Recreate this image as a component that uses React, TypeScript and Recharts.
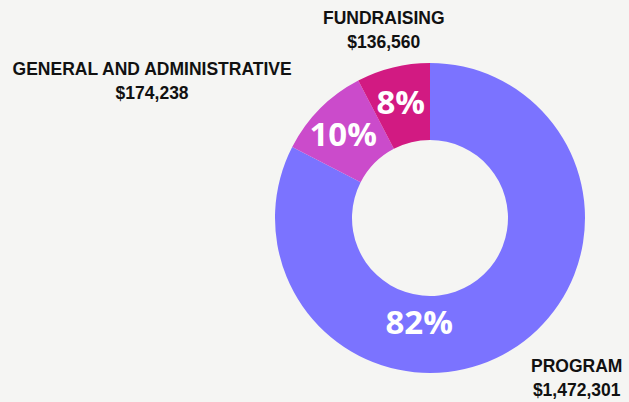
import { PieChart, Pie, Cell } from "recharts"

const categories = ["PROGRAM", "GENERAL AND ADMINISTRATIVE", "FUNDRAISING"]
const amounts = [1472301, 174238, 136560]
const amountLabels = ["$1,472,301", "$174,238", "$136,560"]
const percentLabels = ["82%", "10%", "8%"]
const colors = ["#7B73FF", "#CB4BCB", "#D21A82"]

const data = categories.map((name, i) => ({ name, value: amounts[i] }))

const RADIAN = Math.PI / 180
const LABEL_FONT = "bold 17.5px 'Liberation Sans', Arial, sans-serif"

let ctx: CanvasRenderingContext2D | null = null
const measure = (s: string) => {
  if (!ctx) ctx = document.createElement("canvas").getContext("2d")
  if (!ctx) return s.length * 10
  ctx.font = LABEL_FONT
  return ctx.measureText(s).width
}

const renderLabel = (props: any) => {
  const { cx, cy, midAngle, innerRadius, outerRadius, index, percent } = props
  // inside percentage; the big slice puts its number near the bottom
  const inAngle = percent > 0.5 ? -96 : midAngle
  const inR = percent > 0.5 ? 104 : (innerRadius + outerRadius) / 2 + 6
  const ix = cx + inR * Math.cos(-inAngle * RADIAN)
  const iy = cy + inR * Math.sin(-inAngle * RADIAN) + (percent > 0.5 ? 0 : 2)

  // outside name + amount, lines centred on each other
  const oR = outerRadius + 39
  const cos = Math.cos(-midAngle * RADIAN)
  const sin = Math.sin(-midAngle * RADIAN)
  const ox = cx + oR * cos
  const oy = cy + oR * sin - (sin > 0 ? 6 : 0)
  const w = Math.max(measure(categories[index]), measure(amountLabels[index]))
  const bx = cos > 0.3 ? ox + w / 2 : cos < -0.3 ? ox - w / 2 : ox

  return (
    <g>
      <text
        x={ix}
        y={iy}
        fill="#ffffff"
        textAnchor="middle"
        dominantBaseline="central"
        fontFamily="'Open Sans', sans-serif"
        fontWeight={700}
        fontSize={33}
      >
        {percentLabels[index]}
      </text>
      <text
        x={bx}
        y={oy - 12}
        fill="#111111"
        textAnchor="middle"
        dominantBaseline="central"
        fontFamily="'Liberation Sans', Arial, sans-serif"
        fontWeight={700}
        fontSize={17.5}
      >
        {categories[index]}
      </text>
      <text
        x={bx}
        y={oy + 12}
        fill="#111111"
        textAnchor="middle"
        dominantBaseline="central"
        fontFamily="'Liberation Sans', Arial, sans-serif"
        fontWeight={700}
        fontSize={17.5}
      >
        {amountLabels[index]}
      </text>
    </g>
  )
}

export default function App() {
  return (
    <div style={{ position: "fixed", left: 0, top: 0, width: 629, height: 402, background: "#F5F5F3" }}>
      <PieChart width={629} height={402} margin={{ top: 0, right: 0, bottom: 0, left: 0 }}>
        <Pie
          data={data}
          dataKey="value"
          nameKey="name"
          cx={430}
          cy={218}
          innerRadius={78}
          outerRadius={155}
          startAngle={90}
          endAngle={-270}
          stroke="none"
          label={renderLabel}
          labelLine={false}
          isAnimationActive={false}
        >
          {data.map((_entry, index) => (
            <Cell key={`cell-${index}`} fill={colors[index]} />
          ))}
        </Pie>
      </PieChart>
    </div>
  )
}
